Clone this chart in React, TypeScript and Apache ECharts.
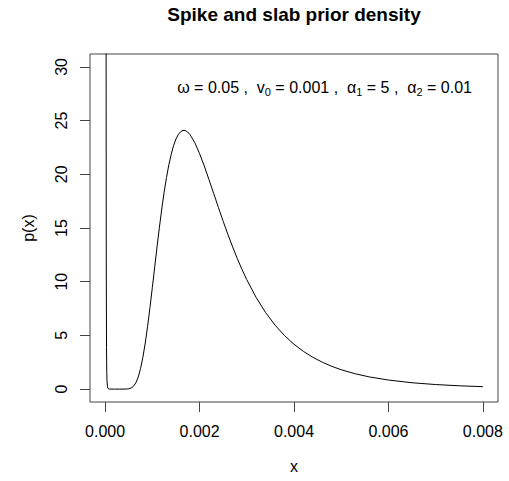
import React, { useEffect, useRef } from "react";
import * as echarts from "echarts";

// x positions read along the curve and the density read at each of them
const xValues = [
  0.00001, 0.000015, 0.00002, 0.000025, 0.00003, 0.000035, 0.00004, 0.00005, 0.00006, 0.00008,
  0.0001, 0.0002, 0.0003, 0.0004, 0.00045, 0.0005, 0.00055, 0.0006, 0.00065, 0.0007,
  0.00075, 0.0008, 0.00085, 0.0009, 0.00095, 0.001, 0.00105, 0.0011, 0.00115, 0.0012,
  0.00125, 0.0013, 0.00135, 0.0014, 0.00145, 0.0015, 0.00155, 0.0016, 0.00165, 0.0017,
  0.00175, 0.0018, 0.0019, 0.002, 0.0021, 0.0022, 0.0023, 0.0024, 0.0025, 0.0026,
  0.0027, 0.0028, 0.0029, 0.003, 0.0032, 0.0034, 0.0036, 0.0038, 0.004, 0.0042,
  0.0044, 0.0046, 0.0048, 0.005, 0.0053, 0.0056, 0.006, 0.0065, 0.007, 0.0075, 0.008,
];
const density = [
  1456, 178, 37.5, 10.9, 3.89, 1.62, 0.75, 0.21, 0.072, 0.013,
  0.004, 0, 0, 0.001, 0.006, 0.028, 0.096, 0.258, 0.575, 1.105,
  1.897, 2.962, 4.294, 5.855, 7.6, 9.46, 11.36, 13.25, 15.07, 16.77,
  18.33, 19.71, 20.89, 21.86, 22.67, 23.28, 23.71, 23.97, 24.09, 24.07,
  23.93, 23.68, 22.94, 21.93, 20.77, 19.5, 18.21, 16.9, 15.63, 14.41,
  13.24, 12.15, 11.13, 10.19, 8.52, 7.12, 5.95, 4.98, 4.175, 3.51,
  2.96, 2.5, 2.12, 1.804, 1.424, 1.133, 0.843, 0.593, 0.424, 0.309, 0.228,
];
const xTicks = [0, 0.002, 0.004, 0.006, 0.008];
const yTicks = [0, 5, 10, 15, 20, 25, 30];
const xRange = [-0.00032, 0.00832];
const yRange = [-1.2, 31.2];

const FONT = "'Liberation Sans', Arial, Helvetica, sans-serif";
const FRAME = "#444";

export default function App() {
  const ref = useRef<HTMLDivElement>(null);
  useEffect(() => {
    document.body.style.margin = "0";
    if (!ref.current) return;
    const chart = echarts.init(ref.current, null, { renderer: "svg" });
    const data = xValues.map((x, i) => [x, density[i]]);
    chart.setOption({
      animation: false,
      backgroundColor: "#ffffff",
      textStyle: { fontFamily: FONT },
      grid: {
        left: 90,
        top: 54,
        width: 408,
        height: 348,
        show: true,
        borderColor: FRAME,
        borderWidth: 1,
        backgroundColor: "transparent",
      },
      xAxis: {
        type: "value",
        min: xRange[0],
        max: xRange[1],
        axisLine: { show: false, onZero: false },
        splitLine: { show: false },
        axisTick: {
          show: true,
          inside: false,
          length: 10,
          customValues: xTicks,
          lineStyle: { color: FRAME, width: 1 },
        },
        axisLabel: {
          customValues: xTicks,
          formatter: (v: number) => v.toFixed(3),
          color: "#000",
          fontSize: 16,
          fontFamily: FONT,
          margin: 21,
        },
      },
      yAxis: {
        type: "value",
        min: yRange[0],
        max: yRange[1],
        axisLine: { show: false, onZero: false },
        splitLine: { show: false },
        axisTick: {
          show: true,
          inside: false,
          length: 10,
          customValues: yTicks,
          lineStyle: { color: FRAME, width: 1 },
        },
        axisLabel: {
          customValues: yTicks,
          rotate: 90,
          color: "#000",
          fontSize: 16,
          fontFamily: FONT,
          margin: 21,
        },
      },
      graphic: [
        {
          type: "text",
          x: 294,
          y: 14,
          style: {
            text: "Spike and slab prior density",
            font: `bold 19px ${FONT}`,
            fill: "#000",
            align: "center",
            verticalAlign: "middle",
          },
        },
        {
          type: "text",
          x: 294,
          y: 466,
          style: {
            text: "x",
            font: `16px ${FONT}`,
            fill: "#000",
            align: "center",
            verticalAlign: "middle",
          },
        },
        {
          type: "text",
          x: 28,
          y: 228,
          rotation: Math.PI / 2,
          style: {
            text: "p(x)",
            font: `16px ${FONT}`,
            fill: "#000",
            align: "center",
            verticalAlign: "middle",
          },
        },
        {
          type: "text",
          x: 472,
          y: 87,
          style: {
            text:
              "{m|ω = 0.05 ,  v}{s|0}{m| = 0.001 ,  α}{s|1}{m| = 5 ,  α}{s|2}{m| = 0.01}",
            align: "right",
            verticalAlign: "middle",
            rich: {
              m: { fontSize: 16, fontFamily: FONT, lineHeight: 20, fill: "#000" },
              s: {
                fontSize: 11,
                fontFamily: FONT,
                lineHeight: 11,
                verticalAlign: "bottom",
                fill: "#000",
              },
            },
          },
        },
      ],
      series: [
        {
          type: "line",
          data,
          showSymbol: false,
          symbol: "none",
          smooth: false,
          clip: true,
          lineStyle: { color: "#000", width: 1 },
        },
      ],
    });
    return () => chart.dispose();
  }, []);
  return (
    <div
      ref={ref}
      style={{ position: "fixed", left: 0, top: 0, width: 509, height: 481 }}
    />
  );
}
